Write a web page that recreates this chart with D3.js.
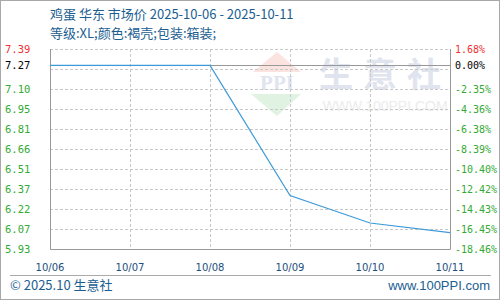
<!DOCTYPE html>
<html><head><meta charset="utf-8">
<script src="https://cdn.jsdelivr.net/npm/d3@7"></script>
<style>body{margin:0;background:#fff}svg{display:block}</style>
</head><body><svg id="c" width="500" height="300"></svg>
<script>
const dates = ["10/06","10/07","10/08","10/09","10/10","10/11"];
const prices = [7.27, 7.27, 7.27, 6.32, 6.12, 6.05];
const leftTicks = [7.39, 7.27, 7.10, 6.95, 6.81, 6.66, 6.51, 6.37, 6.22, 6.07, 5.93];
const rightTicks = ["1.68%","0.00%","-2.35%","-4.36%","-6.38%","-8.39%","-10.40%","-12.42%","-14.43%","-16.45%","-18.46%"];
const gridVals = [7.39,7.244,7.098,6.952,6.806,6.66,6.514,6.368,6.222,6.076,5.93];
const basePrice = 7.27;
const title1 = "鸡蛋 华东 市场价 2025-10-06 - 2025-10-11";
const title2 = "等级:XL;颜色:褐壳;包装:箱装;";

const svg = d3.select("#c");
const L=50,R=450,T=49,B=249;
const x = d3.scalePoint().domain(dates).range([L,R]);
const y = d3.scaleLinear().domain([5.93,7.39]).range([B,T]);

svg.append("rect").attr("x",0.5).attr("y",0.5).attr("width",499).attr("height",299).attr("fill","#fff").attr("stroke","#a8a8a8");

// watermark
const wm = svg.append("g");
wm.append("path").attr("d","M277,52 L253,72 L301,72 Z").attr("fill","#fbe3e0");
wm.append("text").attr("x",277).attr("y",90).attr("text-anchor","middle").attr("font-family","Liberation Serif").attr("font-weight","bold").attr("font-size",21).attr("fill","#dfe4ef").text("PPI");
wm.append("path").attr("d","M251,94 L301,94 L277,116 Z").attr("fill","#e0f2e2");
wm.append("text").attr("x",385).attr("y",87).attr("text-anchor","middle").attr("font-family","Noto Sans CJK SC").attr("font-weight","bold").attr("font-size",34).attr("letter-spacing",10).attr("fill","#dfe4ee").text("生意社");
wm.append("text").attr("x",385).attr("y",111).attr("text-anchor","middle").attr("font-family","Liberation Sans").attr("font-size",14).attr("fill","#ececec").text("WWW.100PPI.COM");

// grid
svg.append("g").selectAll("line").data(gridVals).join("line")
  .attr("x1",L).attr("x2",R).attr("y1",d=>Math.round(y(d))+0.5).attr("y2",d=>Math.round(y(d))+0.5)
  .attr("stroke","#c8c8c8").attr("stroke-dasharray","3,2");
svg.append("g").selectAll("line").data(dates.slice(1,-1)).join("line")
  .attr("x1",d=>x(d)+0.5).attr("x2",d=>x(d)+0.5).attr("y1",T).attr("y2",B)
  .attr("stroke","#c8c8c8").attr("stroke-dasharray","3,2");
svg.append("line").attr("x1",L).attr("x2",R).attr("y1",Math.round(y(basePrice))+0.5).attr("y2",Math.round(y(basePrice))+0.5).attr("stroke","#999");
svg.append("path").attr("d",`M${L+0.5},${T} V${B+0.5} H${R+0.5} V${T}`).attr("fill","none").attr("stroke","#999");

// line
svg.append("path").datum(prices).attr("fill","none").attr("stroke","#3d9ad8").attr("stroke-width",1.2)
  .attr("d",d3.line().x((d,i)=>x(dates[i])).y(d=>y(d)));

// axis labels
const tickColor = (i)=> i===0 ? "#ee3333" : (i===1 ? "#000" : "#33aa33");
svg.append("g").selectAll("text").data(leftTicks).join("text")
  .attr("x",5).attr("y",(d,i)=>y(i===1?basePrice:gridVals[i])).attr("dy","0.35em")
  .attr("font-family","DejaVu Sans Mono").attr("font-size",10.5).attr("fill",(d,i)=>tickColor(i))
  .text(d=>d.toFixed(2));
svg.append("g").selectAll("text").data(rightTicks).join("text")
  .attr("x",455).attr("y",(d,i)=>y(i===1?basePrice:gridVals[i])).attr("dy","0.35em")
  .attr("font-family","DejaVu Sans Mono").attr("font-size",10).attr("fill",(d,i)=>tickColor(i))
  .text(d=>d);
svg.append("g").selectAll("text").data(dates).join("text")
  .attr("x",d=>x(d)).attr("y",267).attr("dy","0.35em").attr("text-anchor","middle")
  .attr("font-family","DejaVu Sans").attr("font-size",10).attr("fill","#1a4f80").text(d=>d);

// titles
svg.append("text").attr("x",50).attr("y",19).attr("font-family","Noto Sans CJK SC").attr("font-size",13).attr("fill","#1b5e91").text(title1);
svg.append("text").attr("x",50).attr("y",38).attr("font-family","Noto Sans CJK SC").attr("font-size",13).attr("fill","#1b5e91").text(title2);

// footer
svg.append("line").attr("x1",10).attr("x2",491).attr("y1",275.5).attr("y2",275.5).attr("stroke","#aaa");
svg.append("text").attr("x",10).attr("y",290).attr("font-family","Noto Sans CJK SC").attr("font-size",13).attr("fill","#1b5e91").text("© 2025.10 生意社");
svg.append("text").attr("x",490).attr("y",290).attr("text-anchor","end").attr("font-family","Liberation Sans").attr("font-size",13).attr("fill","#1b5e91").text("www.100PPI.com");
</script></body></html>
